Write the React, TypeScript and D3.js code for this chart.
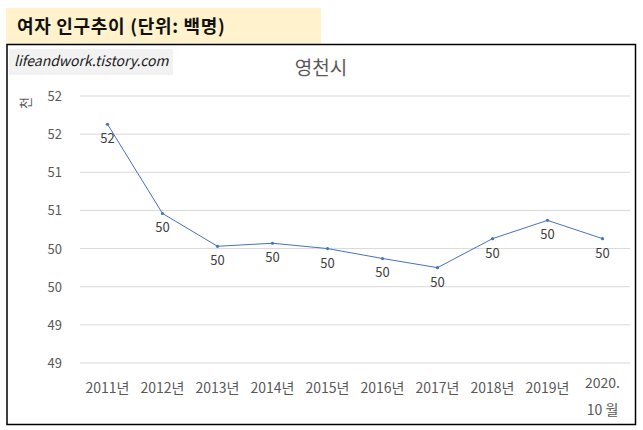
import React from "react";
import * as d3 from "d3";

const categories = ["2011년", "2012년", "2013년", "2014년", "2015년", "2016년", "2017년", "2018년", "2019년", "2020.|10 월"];
const values = [52.13, 50.96, 50.53, 50.57, 50.5, 50.37, 50.25, 50.63, 50.87, 50.63];
const dataLabels = ["52", "50", "50", "50", "50", "50", "50", "50", "50", "50"];
const yTicks = [49, 49.5, 50, 50.5, 51, 51.5, 52, 52.5];
const yTickLabels = ["49", "49", "50", "50", "51", "51", "52", "52"];

const W = 643;
const H = 430;
const plot = { left: 80, right: 630, top: 96, bottom: 363 };
const FONT = "'Noto Sans CJK KR', 'Noto Sans', sans-serif";

export default function App() {
  const x = d3.scaleBand<string>().domain(categories).range([plot.left, plot.right]);
  const y = d3.scaleLinear().domain([49, 52.5]).range([plot.bottom, plot.top]);
  const cx = (c: string) => (x(c) ?? 0) + x.bandwidth() / 2;
  const line = d3
    .line<number>()
    .x((_, i) => cx(categories[i]))
    .y((v) => y(v));

  return (
    <>
      <style>{"body{margin:0}"}</style>
      <svg width={W} height={H} style={{ display: "block", fontFamily: FONT }}>
        <rect x={0} y={0} width={W} height={H} fill="#ffffff" />
        <rect x={6} y={8} width={315} height={36} fill="#fff2cc" />
        <text x={17} y={33} fontSize={18} fontWeight="bold" letterSpacing={0.7} fill="#111">
          여자 인구추이 (단위: 백명)
        </text>
        <rect x={7} y={44.5} width={628.5} height={380} fill="none" stroke="#000" strokeWidth={1.5} />
        <rect x={9} y={49} width={164} height={26} fill="#f2f2f2" />
        <text x={14} y={66} fontSize={14} fontStyle="italic" fill="#1a1a1a">
          lifeandwork.tistory.com
        </text>
        <text x={321} y={75} fontSize={19} textAnchor="middle" fill="#595959">
          영천시
        </text>
        <text
          transform="translate(30,103) rotate(-90)"
          fontSize={13}
          textAnchor="middle"
          fill="#595959"
        >
          천
        </text>
        {yTicks.map((t, i) => (
          <g key={i}>
            <line x1={plot.left} x2={plot.right} y1={y(t)} y2={y(t)} stroke="#d9d9d9" strokeWidth={1} />
            <text x={62} y={y(t) + 5} fontSize={13} textAnchor="end" fill="#595959">
              {yTickLabels[i]}
            </text>
          </g>
        ))}
        {categories.map((c, i) => {
          const parts = c.split("|");
          if (parts.length === 1)
            return (
              <text key={i} x={cx(c)} y={393} fontSize={14} textAnchor="middle" fill="#595959">
                {c}
              </text>
            );
          return (
            <g key={i}>
              <text x={cx(c)} y={388} fontSize={14} textAnchor="middle" fill="#595959">
                {parts[0]}
              </text>
              <text x={cx(c)} y={415} fontSize={14} textAnchor="middle" fill="#595959">
                {parts[1]}
              </text>
            </g>
          );
        })}
        <path d={line(values) ?? ""} fill="none" stroke="#4472c4" strokeWidth={1} />
        {values.map((v, i) => (
          <circle key={i} cx={cx(categories[i])} cy={y(v)} r={1.6} fill="#4472c4" />
        ))}
        {values.map((v, i) => (
          <text key={"l" + i} x={cx(categories[i])} y={y(v) + 19} fontSize={13} textAnchor="middle" fill="#404040">
            {dataLabels[i]}
          </text>
        ))}
      </svg>
    </>
  );
}
